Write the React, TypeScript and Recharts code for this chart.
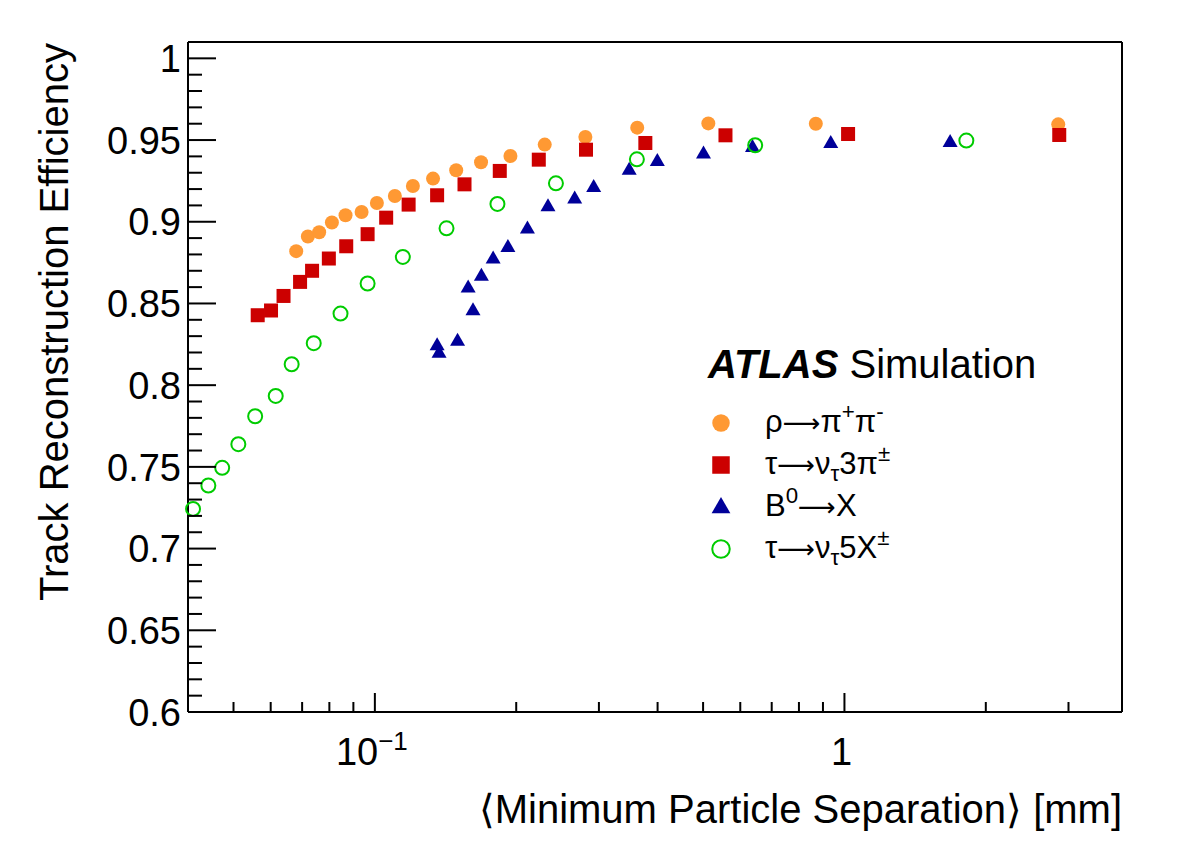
import React from "react";
import { ScatterChart, Scatter, XAxis, YAxis, Legend } from "recharts";

const FONT = "'Liberation Sans', Arial, Helvetica, sans-serif";

const ORANGE = "#FF9933";
const RED = "#CC0000";
const BLUE = "#000099";
const GREEN = "#00CC00";

// rho -> pi+ pi-
const rhoSep = [0.068, 0.072, 0.0761, 0.081, 0.0866, 0.0937, 0.101, 0.1103, 0.1205, 0.133, 0.149, 0.1683, 0.1944, 0.23, 0.2807, 0.362, 0.513, 0.869, 2.853];
const rhoEff = [0.882, 0.891, 0.8936, 0.8995, 0.904, 0.906, 0.9115, 0.9158, 0.9219, 0.9264, 0.9315, 0.9364, 0.9402, 0.9472, 0.9519, 0.9576, 0.9602, 0.96, 0.9596];

// tau -> nu 3pi
const tau3Sep = [0.0563, 0.0601, 0.0639, 0.0693, 0.0735, 0.0798, 0.0869, 0.0965, 0.1057, 0.118, 0.1357, 0.1552, 0.1845, 0.2234, 0.2816, 0.3767, 0.558, 1.018, 2.867];
const tau3Eff = [0.8428, 0.8457, 0.8546, 0.8632, 0.87, 0.8775, 0.885, 0.8924, 0.9025, 0.9105, 0.9162, 0.9229, 0.9311, 0.938, 0.9441, 0.9482, 0.9529, 0.9537, 0.9531];

// B0 -> X
const b0Sep = [0.1357, 0.137, 0.15, 0.158, 0.1618, 0.1686, 0.1786, 0.192, 0.2113, 0.2337, 0.2664, 0.2924, 0.348, 0.3995, 0.501, 0.637, 0.935, 1.679];
const b0Eff = [0.8245, 0.8198, 0.8272, 0.8598, 0.8459, 0.8669, 0.8775, 0.8846, 0.8958, 0.9095, 0.9142, 0.9213, 0.9319, 0.9372, 0.9417, 0.9458, 0.9482, 0.9488];

// tau -> nu 5X
const tau5Sep = [0.041, 0.0442, 0.0473, 0.0512, 0.0556, 0.0615, 0.0665, 0.0741, 0.0845, 0.0965, 0.1147, 0.1421, 0.1824, 0.243, 0.3614, 0.6455, 1.818];
const tau5Eff = [0.7243, 0.7386, 0.7494, 0.7639, 0.781, 0.7934, 0.8128, 0.8257, 0.8438, 0.8622, 0.8785, 0.896, 0.9109, 0.9235, 0.9382, 0.9468, 0.9497];

const seriesNames = ["ρ→π+π-", "τ→ντ3π±", "B0→X", "τ→ντ5X±"];

// legend label pieces: [text, kind]
const labelParts: [string, string][][] = [
  [["ρ", ""], ["⟶", "arrow"], ["π", ""], ["+", "sup"], ["π", ""], ["-", "sup"]],
  [["τ", ""], ["⟶", "arrow"], ["ν", ""], ["τ", "sub"], ["3π", ""], ["±", "sup"]],
  [["B", ""], ["0", "sup"], ["⟶", "arrow"], ["X", ""]],
  [["τ", ""], ["⟶", "arrow"], ["ν", ""], ["τ", "sub"], ["5X", ""], ["±", "sup"]],
];

const X_MIN = 0.04;
const X_MAX = 3.9;
const Y_MIN = 0.6;
const Y_MAX = 1.01;

const xMajor = [0.1, 1];
const xTicks = [0.05, 0.06, 0.07, 0.08, 0.09, 0.1, 0.2, 0.3, 0.4, 0.5, 0.6, 0.7, 0.8, 0.9, 1, 2, 3];
const xLabels: Record<string, [string, string]> = { "0.1": ["10", "−1"], "1": ["1", ""] };
const yTicks = Array.from({ length: 41 }, (_, i) => (60 + i) / 100);

const toPoints = (xs: number[], ys: number[]) => xs.map((x, i) => ({ sep: x, eff: ys[i] }));

const rhoData = toPoints(rhoSep, rhoEff);
const tau3Data = toPoints(tau3Sep, tau3Eff);
const b0Data = toPoints(b0Sep, b0Eff);
const tau5Data = toPoints(tau5Sep, tau5Eff);

// markers (s = scale)
const dot = (cx: number, cy: number, s = 1) => <circle cx={cx} cy={cy} r={7 * s} fill={ORANGE} />;
const square = (cx: number, cy: number, s = 1) => (
  <rect x={cx - 7 * s} y={cy - 7 * s} width={14 * s} height={14 * s} fill={RED} />
);
const triangle = (cx: number, cy: number, s = 1) => (
  <polygon points={`${cx},${cy - 8 * s} ${cx - 7.5 * s},${cy + 5 * s} ${cx + 7.5 * s},${cy + 5 * s}`} fill={BLUE} />
);
const ring = (cx: number, cy: number, s = 1) => (
  <circle cx={cx} cy={cy} r={7 * s} fill="none" stroke={GREEN} strokeWidth={2} />
);
const markers = [dot, square, triangle, ring];

const XTick = (props: any, side: "bottom" | "top") => {
  const { x, y, payload } = props;
  const v = payload.value;
  const major = xMajor.includes(v);
  const len = major ? 19 : 10;
  const dir = side === "bottom" ? -1 : 1;
  const lab = xLabels[String(v)];
  return (
    <g>
      <line x1={x} y1={y} x2={x} y2={y + dir * len} stroke="#000" strokeWidth={2} />
      {side === "bottom" && major && lab && (
        <text x={x - 3} y={y + 53} textAnchor="middle" fontFamily={FONT} fontSize={38} fill="#000">
          {lab[0]}
          {lab[1] && (
            <tspan dy={-15} fontSize={26}>
              {lab[1]}
            </tspan>
          )}
        </text>
      )}
    </g>
  );
};

const YTick = (props: any, side: "left" | "right") => {
  const { x, y, payload } = props;
  const v = payload.value;
  const major = Math.round(v * 100) % 5 === 0;
  const len = major ? 28 : 14;
  const dir = side === "left" ? 1 : -1;
  return (
    <g>
      <line x1={x} y1={y} x2={x + dir * len} y2={y} stroke="#000" strokeWidth={2} />
      {side === "left" && major && (
        <text x={x - 7} y={y} dy="0.36em" textAnchor="end" fontFamily={FONT} fontSize={38} fill="#000">
          {String(Math.round(v * 100) / 100)}
        </text>
      )}
    </g>
  );
};

const xTitle = (props: any) => {
  const vb = props.viewBox || { x: 188, y: 712, width: 934 };
  return (
    <text x={vb.x + vb.width} y={712 + 111} textAnchor="end" fontFamily={FONT} fontSize={40} fill="#000">
      ⟨Minimum Particle Separation⟩ [mm]
    </text>
  );
};

const yTitle = () => {
  const tx = 68;
  const ty = 43;
  return (
    <text x={tx} y={ty} transform={`rotate(-90 ${tx} ${ty})`} textAnchor="end" fontFamily={FONT} fontSize={40} fill="#000">
      Track Reconstruction Efficiency
    </text>
  );
};

const LegendBox = () => {
  return (
    <div style={{ fontFamily: FONT, color: "#000", whiteSpace: "nowrap" }}>
      <div style={{ fontSize: 40, lineHeight: "46px", height: 46 }}>
        <b>
          <i>ATLAS</i>
        </b>{" "}
        Simulation
      </div>
      <div style={{ marginTop: 15 }}>
        {seriesNames.map((name, idx) => (
          <div key={name} style={{ display: "flex", alignItems: "center", height: 42 }}>
            <svg width={26} height={42} style={{ display: "block" }}>
              {markers[idx](13, 21, 1.25)}
            </svg>
            <span style={{ fontSize: 31, marginLeft: 31, lineHeight: "42px" }}>
              {labelParts[idx].map(([t, k], j) => {
                if (k === "") return <span key={j}>{t}</span>;
                if (k === "arrow")
                  return (
                    <span key={j} style={{ fontFamily: "'DejaVu Sans'", fontSize: "0.85em" }}>
                      {t}
                    </span>
                  );
                return (
                  <span
                    key={j}
                    style={{ fontSize: "0.72em", position: "relative", top: k === "sup" ? "-0.55em" : "0.35em" }}
                  >
                    {t}
                  </span>
                );
              })}
            </span>
          </div>
        ))}
      </div>
    </div>
  );
};

export default function App() {
  const axisLine = { stroke: "#000", strokeWidth: 2 };
  return (
    <div style={{ position: "absolute", left: 0, top: 0, width: 1182, height: 848, background: "#fff" }}>
      <ScatterChart width={1182} height={848} margin={{ top: 41, right: 59, bottom: 135, left: 187 }}>
        <XAxis
          xAxisId="bottom"
          dataKey="sep"
          type="number"
          scale="log"
          domain={[X_MIN, X_MAX]}
          ticks={xTicks}
          interval={0}
          height={1}
          tickSize={0}
          tickMargin={0}
          tickLine={false}
          axisLine={axisLine}
          tick={(p: any) => XTick(p, "bottom")}
          label={xTitle}
        />
        <XAxis
          xAxisId="top"
          orientation="top"
          dataKey="sep"
          type="number"
          scale="log"
          domain={[X_MIN, X_MAX]}
          ticks={xTicks}
          interval={0}
          height={1}
          tickSize={0}
          tickMargin={0}
          tickLine={false}
          axisLine={axisLine}
          tick={(p: any) => XTick(p, "top")}
        />
        <YAxis
          yAxisId="left"
          dataKey="eff"
          type="number"
          domain={[Y_MIN, Y_MAX]}
          ticks={yTicks}
          interval={0}
          width={1}
          tickSize={0}
          tickMargin={0}
          tickLine={false}
          axisLine={axisLine}
          tick={(p: any) => YTick(p, "left")}
          label={yTitle}
        />
        <YAxis
          yAxisId="right"
          orientation="right"
          dataKey="eff"
          type="number"
          domain={[Y_MIN, Y_MAX]}
          ticks={yTicks}
          interval={0}
          width={1}
          tickSize={0}
          tickMargin={0}
          tickLine={false}
          axisLine={axisLine}
          tick={(p: any) => YTick(p, "right")}
        />
        <Legend
          layout="horizontal"
          align="center"
          verticalAlign="middle"
          content={LegendBox}
          wrapperStyle={{ left: 708, top: 341, width: 420, height: 230 }}
        />
        <Scatter xAxisId="bottom" yAxisId="left" name={seriesNames[0]} data={rhoData} fill={ORANGE} shape={(p: any) => dot(p.cx, p.cy)} isAnimationActive={false} />
        <Scatter xAxisId="bottom" yAxisId="left" name={seriesNames[1]} data={tau3Data} fill={RED} shape={(p: any) => square(p.cx, p.cy)} isAnimationActive={false} />
        <Scatter xAxisId="bottom" yAxisId="left" name={seriesNames[2]} data={b0Data} fill={BLUE} shape={(p: any) => triangle(p.cx, p.cy)} isAnimationActive={false} />
        <Scatter xAxisId="bottom" yAxisId="left" name={seriesNames[3]} data={tau5Data} fill={GREEN} shape={(p: any) => ring(p.cx, p.cy)} isAnimationActive={false} />
      </ScatterChart>
    </div>
  );
}
